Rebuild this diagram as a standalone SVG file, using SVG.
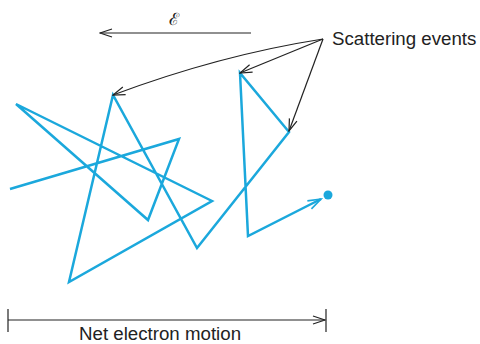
<svg xmlns="http://www.w3.org/2000/svg" width="480" height="344" viewBox="0 0 480 344">
<style>
.lbl{font-family:"Liberation Sans",Arial,sans-serif;font-size:18.7px;fill:#222}
.blk{fill:none;stroke:#222;stroke-width:1.2}
.path{fill:none;stroke:#1ba8dc;stroke-width:2.5;stroke-linejoin:miter}
</style>
<defs>
<marker id="ah" markerWidth="14" markerHeight="10" refX="13" refY="5" orient="auto" markerUnits="userSpaceOnUse">
<path d="M1,1 L13,5 L1,9" fill="none" stroke="#222" stroke-width="1.2"/>
</marker>
<marker id="bh" markerWidth="16" markerHeight="12" refX="14" refY="6" orient="auto" markerUnits="userSpaceOnUse">
<path d="M1,1.5 L14,6 L1,10.5" fill="none" stroke="#1ba8dc" stroke-width="1.6"/>
</marker>
</defs>
<g id="field">
<line class="blk" x1="251" y1="33" x2="100" y2="33" marker-end="url(#ah)"/>
<text x="174" y="25" font-family="DejaVu Serif,serif" font-size="17" fill="#222" text-anchor="middle">ℰ</text>
</g>
<g id="trajectory">
<polyline class="path" points="10,189 179,139 148,220 16,104 212,201 69,282 113,95 197,248 289,132 240,73 248,236 321,199" marker-end="url(#bh)"/>
<circle cx="328" cy="195" r="4.5" fill="#1ba8dc"/>
</g>
<g id="label-scattering">
<text class="lbl" x="332" y="45">Scattering events</text>
</g>
<g id="connectors">
<path class="blk" d="M323,39 Q220,55 113,95" marker-end="url(#ah)"/>
<line class="blk" x1="323" y1="39" x2="240" y2="73" marker-end="url(#ah)"/>
<line class="blk" x1="323" y1="39" x2="289" y2="131" marker-end="url(#ah)"/>
</g>
<g id="net-motion">
<line class="blk" x1="8" y1="320" x2="325" y2="320" marker-end="url(#ah)"/>
<line class="blk" x1="8" y1="309" x2="8" y2="332"/>
<line class="blk" x1="326" y1="309" x2="326" y2="332"/>
<text class="lbl" x="79" y="340">Net electron motion</text>
</g>
</svg>
